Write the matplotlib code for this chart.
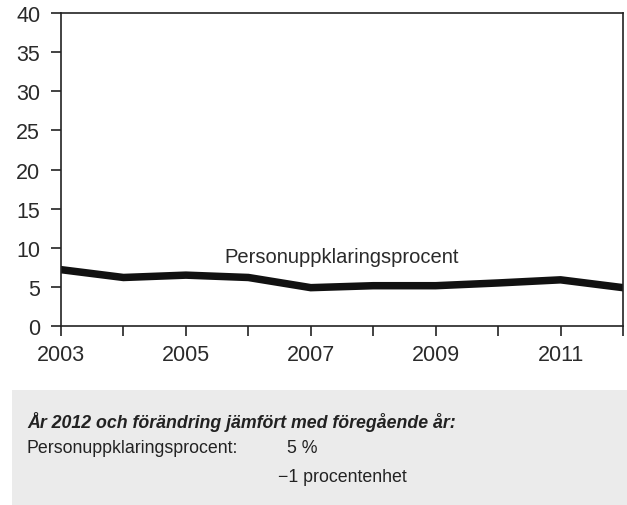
import matplotlib.pyplot as plt
import matplotlib.patches as patches

plt.rcParams['font.family'] = ['Liberation Sans', 'DejaVu Sans']

years = [2003, 2004, 2005, 2006, 2007, 2008, 2009, 2010, 2011, 2012]
procent = [7.2, 6.2, 6.5, 6.2, 4.9, 5.15, 5.15, 5.5, 5.9, 4.9]
year_labels = ["2003", "", "2005", "", "2007", "", "2009", "", "2011", ""]
yticks = [0, 5, 10, 15, 20, 25, 30, 35, 40]

W, H = 627, 506
fig = plt.figure(figsize=(W / 100, H / 100), dpi=100)
ax = fig.add_axes([61 / W, 1 - 327 / H, (623 - 61) / W, (327 - 14) / H])

ax.plot(years, procent, color="#111111", lw=5.4, solid_joinstyle="miter")
ax.set_xlim(2003, 2012)
ax.set_ylim(0, 40)
ax.set_yticks(yticks)
ax.set_xticks(years)
ax.set_xticklabels(year_labels)
for s in ax.spines.values():
    s.set_linewidth(1.2)
    s.set_color("#222222")
ax.tick_params(axis="both", labelsize=15.5, colors="#222222", width=1.2, length=7,
               labelcolor="#2a2a2a")
ax.tick_params(axis="y", pad=8)
ax.tick_params(axis="x", pad=6)

ax.text(2007.5, 8.9, "Personuppklaringsprocent", fontsize=14.5, color="#2a2a2a",
        ha="center", va="center")

# grå ruta med sammanfattning
box = patches.Rectangle((12 / W, 0), 1 - 12 / W, (506 - 391) / H,
                        transform=fig.transFigure, facecolor="#ebebeb",
                        edgecolor="none")
fig.patches.append(box)
fs = 12.8
fig.text(27 / W, 1 - 422 / H, "År 2012 och förändring jämfört med föregående år:",
         fontsize=fs, fontweight="bold", fontstyle="italic", color="#222222",
         va="center")
fig.text(27 / W, 1 - 449 / H, "Personuppklaringsprocent:", fontsize=fs,
         color="#222222", va="center")
fig.text(287 / W, 1 - 449 / H, "5 %", fontsize=fs, color="#222222", va="center")
fig.text(278 / W, 1 - 478 / H, "\u22121 procentenhet", fontsize=fs,
         color="#222222", va="center")

fig.savefig("out.png", dpi=100)
